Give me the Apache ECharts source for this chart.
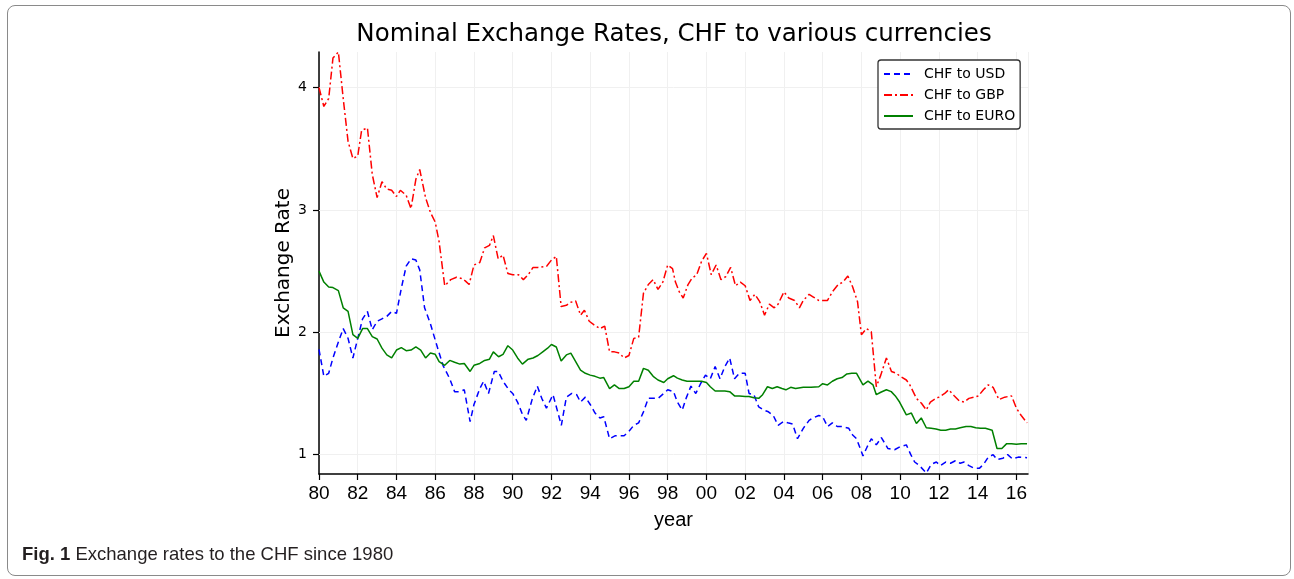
<!DOCTYPE html>
<html>
<head>
<meta charset="utf-8">
<script src="https://cdn.jsdelivr.net/npm/echarts@6/dist/echarts.min.js"></script>
<style>
  html, body { margin: 0; padding: 0; background: #fff; }
  #frame { position: absolute; left: 7px; top: 5px; width: 1282px; height: 569px; border: 1px solid #8a8a8a; border-radius: 8px; }
  #chart { position: absolute; left: 0; top: 0; width: 1294px; height: 579px; }
</style>
</head>
<body>
<div id="frame"></div>
<div id="chart"></div>
<script>
// ---------- data ----------
const seriesNames = ['CHF to USD', 'CHF to GBP', 'CHF to EURO'];
const xTicks = [1980, 1982, 1984, 1986, 1988, 1990, 1992, 1994, 1996, 1998, 2000, 2002, 2004, 2006, 2008, 2010, 2012, 2014, 2016];
const yTicks = [1, 2, 3, 4];

const usdYears = [1980.0, 1980.25, 1980.5, 1980.72, 1981.0, 1981.25, 1981.5, 1981.75, 1982.0, 1982.25, 1982.5, 1982.75,
  1983.0, 1983.25, 1983.5, 1983.75, 1984.0, 1984.25, 1984.5, 1984.75, 1985.0, 1985.2, 1985.45, 1985.75, 1986.05, 1986.4,
  1986.75, 1987.0, 1987.25, 1987.5, 1987.8, 1988.0, 1988.3, 1988.5, 1988.75, 1989.05, 1989.25, 1989.5, 1989.8,
  1990.0, 1990.25, 1990.5, 1990.7, 1991.0, 1991.27, 1991.5, 1991.74, 1992.08, 1992.51, 1992.77, 1993.05, 1993.3, 1993.5,
  1993.75, 1994.0, 1994.25, 1994.5, 1994.7, 1995.0, 1995.3, 1995.5, 1995.75, 1996.0, 1996.25, 1996.5, 1996.75, 1997.0,
  1997.25, 1997.5, 1997.8, 1998.0, 1998.3, 1998.5, 1998.75, 1998.95, 1999.2, 1999.45, 1999.7, 1999.95, 2000.2, 2000.45,
  2000.7, 2000.95, 2001.2, 2001.45, 2001.7, 2002.0, 2002.2, 2002.45, 2002.7, 2002.95, 2003.2, 2003.45, 2003.7, 2003.98,
  2004.2, 2004.45, 2004.7, 2005.0, 2005.3, 2005.5, 2005.8, 2006.0, 2006.25, 2006.5, 2006.75, 2007.0, 2007.35, 2007.55,
  2007.75, 2008.08, 2008.3, 2008.51, 2008.77, 2009.03, 2009.37, 2009.71, 2010.0, 2010.32, 2010.55, 2010.75, 2011.0,
  2011.35, 2011.6, 2011.87, 2012.07, 2012.35, 2012.6, 2012.85, 2013.1, 2013.3, 2013.55, 2013.8, 2014.1, 2014.3, 2014.55,
  2014.8, 2015.0, 2015.3, 2015.55, 2015.8, 2016.1, 2016.55];
const usdRates = [1.86, 1.64, 1.665, 1.79, 1.92, 2.03, 1.95, 1.79, 1.95, 2.11, 2.17, 2.02,
  2.09, 2.11, 2.13, 2.17, 2.155, 2.36, 2.54, 2.60, 2.59, 2.51, 2.20, 2.07, 1.91, 1.73,
  1.62, 1.515, 1.515, 1.53, 1.27, 1.41, 1.54, 1.60, 1.50, 1.68, 1.68, 1.60, 1.53,
  1.50, 1.43, 1.33, 1.28, 1.45, 1.56, 1.46, 1.38, 1.49, 1.24, 1.47, 1.50, 1.49, 1.43,
  1.47, 1.41, 1.34, 1.30, 1.31, 1.13, 1.155, 1.155, 1.155, 1.19, 1.24, 1.26, 1.35, 1.46,
  1.46, 1.46, 1.50, 1.53, 1.515, 1.43, 1.365, 1.46, 1.56, 1.50, 1.58, 1.65, 1.62, 1.72,
  1.62, 1.72, 1.79, 1.62, 1.665, 1.665, 1.50, 1.49, 1.39, 1.365, 1.35, 1.32, 1.24, 1.27,
  1.26, 1.25, 1.13, 1.215, 1.28, 1.30, 1.32, 1.31, 1.23, 1.26, 1.23, 1.23, 1.215, 1.16,
  1.13, 0.99, 1.065, 1.13, 1.08, 1.14, 1.05, 1.04, 1.065, 1.08, 1.0, 0.94, 0.91,
  0.85, 0.92, 0.94, 0.91, 0.94, 0.93, 0.95, 0.93, 0.94, 0.91, 0.89, 0.89, 0.92, 0.98,
  1.0, 0.96, 0.97, 1.0, 0.965, 0.98, 0.975];

const gbpYears = [1980.0, 1980.25, 1980.5, 1980.72, 1981.0, 1981.25, 1981.5, 1981.75, 1982.0, 1982.2, 1982.5, 1982.75,
  1983.0, 1983.25, 1983.5, 1983.75, 1984.0, 1984.2, 1984.5, 1984.75, 1985.0, 1985.2, 1985.5, 1985.75, 1986.0, 1986.2,
  1986.49, 1986.8, 1987.1, 1987.35, 1987.55, 1987.75, 1988.0, 1988.3, 1988.55, 1988.8, 1989.0, 1989.25, 1989.5, 1989.75,
  1990.0, 1990.3, 1990.55, 1990.8, 1991.05, 1991.3, 1991.75, 1992.0, 1992.25, 1992.5, 1992.77, 1993.0, 1993.25, 1993.5,
  1993.7, 1993.95, 1994.2, 1994.5, 1994.75, 1995.0, 1995.25, 1995.5, 1995.75, 1996.0, 1996.25, 1996.5, 1996.75, 1997.0,
  1997.25, 1997.5, 1997.75, 1998.0, 1998.25, 1998.4, 1998.6, 1998.8, 1999.05, 1999.25, 1999.5, 1999.75, 2000.0, 2000.25,
  2000.5, 2000.75, 2001.0, 2001.25, 2001.5, 2001.75, 2002.0, 2002.25, 2002.5, 2002.75, 2003.0, 2003.25, 2003.5, 2003.7,
  2004.0, 2004.25, 2004.55, 2004.8, 2005.0, 2005.3, 2005.5, 2005.8, 2006.0, 2006.25, 2006.5, 2006.8, 2007.05, 2007.3,
  2007.55, 2007.8, 2008.0, 2008.26, 2008.51, 2008.77, 2009.0, 2009.29, 2009.55, 2009.8, 2010.0, 2010.32, 2010.5, 2010.84,
  2011.1, 2011.35, 2011.56, 2011.84, 2012.0, 2012.3, 2012.5, 2012.8, 2013.05, 2013.3, 2013.55, 2013.8, 2014.04, 2014.3,
  2014.55, 2014.8, 2015.1, 2015.4, 2015.75, 2016.0, 2016.25, 2016.55];
const gbpRates = [4.0, 3.845, 3.91, 4.24, 4.29, 3.91, 3.56, 3.42, 3.44, 3.65, 3.67, 3.29,
  3.10, 3.23, 3.17, 3.16, 3.11, 3.16, 3.12, 3.01, 3.25, 3.33, 3.10, 2.98, 2.90, 2.74,
  2.38, 2.43, 2.45, 2.44, 2.42, 2.39, 2.55, 2.57, 2.69, 2.71, 2.79, 2.60, 2.63, 2.48,
  2.47, 2.47, 2.43, 2.47, 2.53, 2.53, 2.54, 2.59, 2.62, 2.21, 2.22, 2.245, 2.256, 2.14,
  2.18, 2.09, 2.06, 2.03, 2.05, 1.84, 1.84, 1.83, 1.79, 1.81, 1.95, 1.96, 2.32, 2.39,
  2.43, 2.35, 2.41, 2.55, 2.52, 2.41, 2.33, 2.28, 2.39, 2.44, 2.47, 2.58, 2.645, 2.47,
  2.55, 2.43, 2.455, 2.53, 2.38, 2.41, 2.38, 2.26, 2.31, 2.25, 2.14, 2.23, 2.20, 2.23,
  2.33, 2.28, 2.26, 2.20, 2.26, 2.31, 2.29, 2.26, 2.26, 2.26, 2.33, 2.39, 2.41, 2.46,
  2.37, 2.25, 1.98, 2.03, 2.005, 1.556, 1.65, 1.79, 1.68, 1.665, 1.64, 1.61, 1.57, 1.46,
  1.42, 1.365, 1.43, 1.46, 1.47, 1.50, 1.53, 1.48, 1.44, 1.43, 1.46, 1.47, 1.48, 1.53,
  1.57, 1.55, 1.45, 1.47, 1.48, 1.38, 1.32, 1.26];

const eurYears = [1980.0, 1980.25, 1980.5, 1980.72, 1981.0, 1981.25, 1981.5, 1981.75, 1982.0, 1982.25, 1982.5, 1982.75,
  1983.0, 1983.25, 1983.5, 1983.75, 1984.0, 1984.25, 1984.5, 1984.75, 1985.0, 1985.25, 1985.5, 1985.75, 1986.0, 1986.2,
  1986.49, 1986.75, 1987.0, 1987.27, 1987.5, 1987.8, 1988.0, 1988.3, 1988.55, 1988.8, 1989.0, 1989.27, 1989.5, 1989.75,
  1990.0, 1990.25, 1990.5, 1990.8, 1991.05, 1991.3, 1991.55, 1991.8, 1992.0, 1992.25, 1992.5, 1992.77, 1993.0, 1993.25,
  1993.5, 1993.75, 1994.0, 1994.25, 1994.5, 1994.7, 1995.0, 1995.25, 1995.5, 1995.75, 1996.0, 1996.25, 1996.5, 1996.75,
  1997.0, 1997.25, 1997.5, 1997.8, 1998.0, 1998.3, 1998.5, 1998.75, 1999.0, 1999.25, 1999.5, 1999.75, 2000.0, 2000.2,
  2000.45, 2000.7, 2000.95, 2001.2, 2001.45, 2001.7, 2002.0, 2002.2, 2002.45, 2002.7, 2002.9, 2003.15, 2003.4, 2003.65,
  2003.9, 2004.1, 2004.35, 2004.6, 2005.0, 2005.4, 2005.8, 2006.0, 2006.25, 2006.5, 2006.75, 2007.0, 2007.25, 2007.5,
  2007.75, 2008.08, 2008.34, 2008.6, 2008.77, 2009.0, 2009.29, 2009.54, 2009.75, 2009.97, 2010.32, 2010.58, 2010.84, 2011.09,
  2011.35, 2011.6, 2011.85, 2012.1, 2012.35, 2012.6, 2012.85, 2013.1, 2013.4, 2013.65, 2013.9, 2014.15, 2014.4, 2014.75,
  2015.0, 2015.25, 2015.5, 2015.75, 2016.0, 2016.25, 2016.55];
const eurRates = [2.50, 2.41, 2.37, 2.365, 2.34, 2.20, 2.17, 1.98, 1.95, 2.03, 2.03, 1.965,
  1.945, 1.87, 1.815, 1.79, 1.855, 1.875, 1.85, 1.855, 1.88, 1.855, 1.79, 1.83, 1.82, 1.76,
  1.73, 1.77, 1.755, 1.74, 1.745, 1.68, 1.73, 1.745, 1.77, 1.78, 1.84, 1.80, 1.82, 1.89,
  1.855, 1.79, 1.74, 1.78, 1.79, 1.81, 1.84, 1.87, 1.90, 1.88, 1.765, 1.815, 1.83, 1.76,
  1.69, 1.665, 1.65, 1.64, 1.625, 1.63, 1.54, 1.57, 1.54, 1.54, 1.555, 1.60, 1.60, 1.705,
  1.69, 1.64, 1.61, 1.59, 1.62, 1.645, 1.625, 1.61, 1.60, 1.60, 1.60, 1.60, 1.59, 1.555,
  1.52, 1.52, 1.52, 1.515, 1.48, 1.48, 1.475, 1.475, 1.465, 1.46, 1.49, 1.555, 1.54, 1.555,
  1.54, 1.53, 1.55, 1.54, 1.55, 1.55, 1.555, 1.58, 1.57, 1.60, 1.62, 1.63, 1.66, 1.665,
  1.665, 1.57, 1.60, 1.57, 1.49, 1.51, 1.53, 1.515, 1.48, 1.43, 1.325, 1.34, 1.255, 1.30,
  1.22, 1.215, 1.21, 1.20, 1.20, 1.21, 1.21, 1.22, 1.23, 1.23, 1.22, 1.215, 1.215, 1.20,
  1.05, 1.05, 1.09, 1.09, 1.085, 1.09, 1.09];

// ---------- chart ----------
const zip = (xs, ys) => xs.map((x, i) => [x, ys[i]]);
const chart = echarts.init(document.getElementById('chart'), null, { renderer: 'canvas' });

const tickFont = 'Liberation Sans, Arial, sans-serif';
const plotFont = 'DejaVu Sans, sans-serif';

chart.setOption({
  animation: false,
  backgroundColor: 'transparent',
  grid: { left: 319, right: 266, top: 52, bottom: 105, containLabel: false },
  graphic: [
    {
      type: 'text', x: 674, y: 35,
      style: { text: 'Nominal Exchange Rates, CHF to various currencies', font: '24.5px ' + plotFont,
               fill: '#000', align: 'center', verticalAlign: 'middle' }
    },
    {
      type: 'text', x: 22, y: 555,
      style: {
        text: '{b|Fig. 1} Exchange rates to the CHF since 1980',
        fill: '#231f20', verticalAlign: 'middle', align: 'left',
        font: '18.5px ' + tickFont,
        rich: { b: { fontWeight: 'bold', fontSize: 18.5, fontFamily: tickFont, fill: '#231f20' } }
      }
    }
  ],
  legend: {
    orient: 'vertical', left: 878, top: 60,
    data: seriesNames,
    backgroundColor: '#fff', borderColor: '#333', borderWidth: 1.3, borderRadius: 3,
    padding: [7, 5, 6, 5], itemWidth: 29, itemHeight: 14, itemGap: 7,
    itemStyle: { opacity: 0 },
    textStyle: { fontFamily: plotFont, fontSize: 14, color: '#000', padding: [0, 0, 0, 6] }
  },
  xAxis: {
    type: 'value', min: 1980, max: 2016.6, interval: 2,
    name: 'year', nameLocation: 'middle', nameGap: 36, nameMoveOverlap: false,
    nameTextStyle: { fontFamily: tickFont, fontSize: 20, color: '#000' },
    axisLine: { show: true, onZero: false, lineStyle: { color: '#000', width: 1.5 } },
    axisTick: { show: true, length: 6, lineStyle: { color: '#000', width: 1.2 } },
    axisLabel: { fontFamily: tickFont, fontSize: 19, color: '#000', margin: 10,
                 formatter: v => String(Math.round(v) % 100).padStart(2, '0') },
    splitLine: { show: true, lineStyle: { color: '#f0f0f0', width: 1 } }
  },
  yAxis: {
    type: 'value', min: 0.842, max: 4.29,
    name: 'Exchange Rate', nameLocation: 'middle', nameGap: 25, nameMoveOverlap: false,
    nameTextStyle: { fontFamily: plotFont, fontSize: 20, color: '#000' },
    axisLine: { show: true, onZero: false, lineStyle: { color: '#000', width: 1.5 } },
    axisTick: { show: true, length: 6, customValues: yTicks, lineStyle: { color: '#000', width: 1.2 } },
    axisLabel: { fontFamily: plotFont, fontSize: 14, color: '#000', margin: 12, customValues: yTicks },
    splitLine: { show: false }
  },
  series: [
    {
      name: seriesNames[0], type: 'line', data: zip(usdYears, usdRates),
      symbol: 'none', showSymbol: false, z: 3,
      lineStyle: { color: '#0000ff', width: 1.5, type: [6, 4] },
      itemStyle: { color: '#0000ff' },
      markLine: {
        silent: true, symbol: ['none', 'none'], label: { show: false },
        lineStyle: { color: '#f0f0f0', width: 1, type: 'solid' },
        data: yTicks.map(v => ({ yAxis: v })), z: 1
      }
    },
    {
      name: seriesNames[1], type: 'line', data: zip(gbpYears, gbpRates),
      symbol: 'none', showSymbol: false, z: 3,
      lineStyle: { color: '#ff0000', width: 1.5, type: [8, 3, 2, 3] },
      itemStyle: { color: '#ff0000' }
    },
    {
      name: seriesNames[2], type: 'line', data: zip(eurYears, eurRates),
      symbol: 'none', showSymbol: false, z: 3,
      lineStyle: { color: '#008000', width: 1.5, type: 'solid' },
      itemStyle: { color: '#008000' }
    }
  ]
});
</script>
</body>
</html>
